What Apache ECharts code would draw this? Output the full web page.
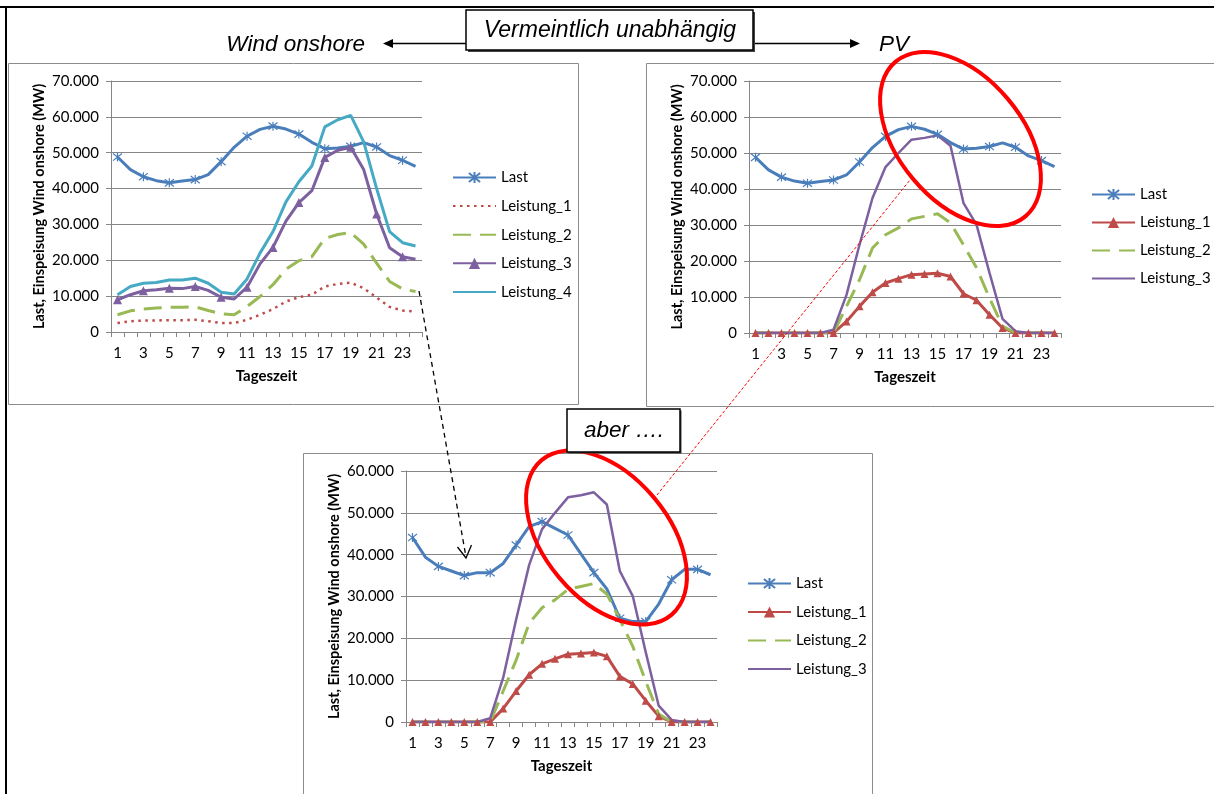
<!DOCTYPE html>
<html>
<head>
<meta charset="utf-8">
<script src="https://cdn.jsdelivr.net/npm/echarts@6/dist/echarts.min.js"></script>
<style>
html,body{margin:0;padding:0;background:#fff;width:1214px;height:794px;overflow:hidden;}
.c{position:absolute;}
</style>
</head>
<body>
<div id="p1" class="c" style="left:8px;top:63px;width:571px;height:342px;"></div>
<div id="p2" class="c" style="left:646px;top:63px;width:575px;height:344px;"></div>
<div id="p3" class="c" style="left:303px;top:453px;width:570px;height:341px;"></div>
<div id="ov" class="c" style="left:0;top:0;width:1214px;height:794px;pointer-events:none;z-index:10;"></div>
<script>
// ---- data ----
const hours = ['1','2','3','4','5','6','7','8','9','10','11','12','13','14','15','16','17','18','19','20','21','22','23','24'];

const windLast = [48800,45300,43300,42200,41600,42100,42500,43900,47500,51500,54600,56500,57400,56600,55200,52900,51100,51300,51800,52800,51600,49200,47900,46200];
const windL1 = [2500,3000,3200,3200,3300,3300,3400,3000,2500,2500,3400,4800,6400,8500,9700,10400,12700,13400,13800,12200,9600,7000,6000,5700];
const windL2 = [4800,5900,6400,6700,6900,6900,7000,6000,5100,4800,7100,9900,13200,17500,19900,21000,26100,27200,27700,24500,19200,14100,12000,11300];
const windL3 = [9000,10400,11500,11800,12200,12100,12700,11600,9700,9200,12500,19000,23600,30900,36100,39400,48700,50700,51500,45300,32900,23500,21000,20300];
const windL4 = [10400,12700,13600,13800,14500,14500,15000,13600,11100,10600,14800,22000,28000,36300,41900,46300,57200,59200,60400,53000,40000,28000,24900,24000];

const pvL1 = [0,0,0,0,0,0,0,3200,7400,11300,13900,15100,16200,16400,16600,15700,10900,9100,5100,1400,0,0,0,0];
const pvL2 = [0,0,0,0,0,0,0,7400,14800,23600,27300,29200,31700,32400,33100,30600,24500,18100,9700,1900,0,0,0,0];
const pvL3 = [0,0,0,0,0,0,900,10600,24500,37500,46100,50000,53700,54200,54900,52000,36100,30100,16700,3900,500,0,0,0];

const aberLast = [44100,39400,37200,36100,35000,35700,35700,37900,42300,46700,47900,46300,44700,40200,35700,31800,24800,24000,24000,28200,34000,36500,36500,35200];

const yMaxTop = 70000;
const yMaxBottom = 60000;
const yStep = 10000;

// ---- styles ----
const BLUE='#4A7EBB', RED='#BE4B48', GREEN='#98B954', PURPLE='#7D60A0', CYAN='#46AAC5';
const GRID='#868686';
const FONT='Lato';
const star='path://M1,1L9,9M9,1L1,9M5,0L5,10';

function fmt(v){ return v===0?'0':(v/1000).toFixed(3); }

function baseOption(max, legendTop){
  return {
    backgroundColor:'transparent',
    animation:false,
    textStyle:{fontFamily:FONT},
    grid:{left:103, top:18, width:311, height:251, containLabel:false, outerBoundsMode:'none'},
    legend:{
      orient:'vertical', left:439, top:legendTop, itemWidth:43, itemHeight:14, itemGap:13.5,
      textStyle:{fontFamily:FONT, fontSize:15, color:'#000'}
    },
    xAxis:{
      type:'category', data:hours, boundaryGap:true,
      name:'Tageszeit', nameLocation:'middle', nameGap:37, nameMoveOverlap:false,
      nameTextStyle:{fontFamily:FONT, fontSize:15, fontWeight:'bold', color:'#000'},
      axisLine:{show:true, lineStyle:{color:GRID, width:1}},
      axisTick:{show:true, alignWithLabel:false, interval:0, length:5, lineStyle:{color:GRID}},
      axisLabel:{interval:1, margin:13.5, fontFamily:FONT, fontSize:15, color:'#000'},
      splitLine:{show:false}
    },
    yAxis:{
      type:'value', min:0, max:max, interval:yStep,
      name:'Last, Einspeisung Wind onshore (MW)', nameLocation:'middle', nameGap:64, nameRotate:90, nameMoveOverlap:false,
      nameTextStyle:{fontFamily:FONT, fontSize:14.5, fontWeight:'bold', color:'#000'},
      axisLine:{show:true, lineStyle:{color:GRID, width:1}},
      axisTick:{show:true, length:5, lineStyle:{color:GRID}},
      axisLabel:{formatter:fmt, margin:12, fontFamily:FONT, fontSize:15, color:'#000'},
      splitLine:{show:true, lineStyle:{color:GRID, width:1}}
    }
  };
}
function lastSeries(data){
  return {name:'Last', type:'line', data:data, symbol:star, symbolSize:9, showSymbol:true,
    lineStyle:{color:BLUE, width:3}, itemStyle:{color:BLUE, borderColor:BLUE, borderWidth:1.2}};
}
function plain(name, data, color, width, type){
  return {name:name, type:'line', data:data, symbol:'none',
    lineStyle:{color:color, width:width, type:type||'solid'}, itemStyle:{color:color}};
}
function tri(name, data, color, size){
  return {name:name, type:'line', data:data, symbol:'triangle', symbolSize:size,
    lineStyle:{color:color, width:3}, itemStyle:{color:color}};
}
function lineOnly(name){ return {name:name, itemStyle:{opacity:0}}; }

// Panel 1
const o1 = baseOption(yMaxTop, 102);
o1.series = [
  lastSeries(windLast),
  plain('Leistung_1', windL1, RED, 2.5, [2.5,4.5]),
  plain('Leistung_2', windL2, GREEN, 3, [18,9]),
  tri('Leistung_3', windL3, PURPLE, 9),
  plain('Leistung_4', windL4, CYAN, 3)
];
o1.legend.data = ['Last', lineOnly('Leistung_1'), lineOnly('Leistung_2'), 'Leistung_3', lineOnly('Leistung_4')];
o1.legend.itemGap = 13.6;

// Panel 2
const o2 = baseOption(yMaxTop, 119);
o2.grid.width = 312; o2.grid.height = 252;
o2.series = [lastSeries(windLast), tri('Leistung_1', pvL1, RED, 8), plain('Leistung_2', pvL2, GREEN, 3, [18,9]), plain('Leistung_3', pvL3, PURPLE, 2.5)];
o2.legend.data = ['Last','Leistung_1', lineOnly('Leistung_2'), lineOnly('Leistung_3')];
o2.legend.left = 440; o2.legend.itemGap = 13;

// Panel 3
const o3 = baseOption(yMaxBottom, 118);
o3.series = [lastSeries(aberLast), tri('Leistung_1', pvL1, RED, 8), plain('Leistung_2', pvL2, GREEN, 3, [18,9]), plain('Leistung_3', pvL3, PURPLE, 2.5)];
o3.legend.data = ['Last','Leistung_1', lineOnly('Leistung_2'), lineOnly('Leistung_3')];
o3.legend.itemGap = 13.5;

[['p1',o1],['p2',o2],['p3',o3]].forEach(function(p){
  const ch = echarts.init(document.getElementById(p[0]), null, {renderer:'canvas'});
  ch.setOption(p[1]);
});

// Overlay annotations
const ov = echarts.init(document.getElementById('ov'), null, {renderer:'canvas'});
const D = Math.PI/180;
const ANN = '"Liberation Sans", Arial, sans-serif';
ov.setOption({
  backgroundColor:'transparent',
  animation:false,
  graphic:[
    // outer frame
    {type:'line', shape:{x1:0,y1:7,x2:1214,y2:7}, style:{stroke:'#000', lineWidth:2}},
    {type:'line', shape:{x1:6,y1:7,x2:6,y2:794}, style:{stroke:'#000', lineWidth:2}},
    // panel borders
    {type:'rect', shape:{x:8.5,y:63.5,width:570,height:341}, style:{fill:'none', stroke:'#8c8c8c', lineWidth:1}},
    {type:'rect', shape:{x:646.5,y:63.5,width:590,height:343}, style:{fill:'none', stroke:'#8c8c8c', lineWidth:1}},
    {type:'rect', shape:{x:303.5,y:453.5,width:569,height:400}, style:{fill:'none', stroke:'#8c8c8c', lineWidth:1}},
    // headings and arrows
    {type:'text', x:365, y:45, style:{text:'Wind onshore', font:'italic 22.5px '+ANN, fill:'#000', textAlign:'right', textVerticalAlign:'middle'}},
    {type:'line', shape:{x1:390,y1:43.5,x2:466,y2:43.5}, style:{stroke:'#000', lineWidth:1.5}},
    {type:'polygon', shape:{points:[[383,43.5],[393,39],[393,48]]}, style:{fill:'#000'}},
    {type:'text', x:879, y:45, style:{text:'PV', font:'italic 22.5px '+ANN, fill:'#000', textAlign:'left', textVerticalAlign:'middle'}},
    {type:'line', shape:{x1:753,y1:43.5,x2:852,y2:43.5}, style:{stroke:'#000', lineWidth:1.5}},
    {type:'polygon', shape:{points:[[860,43.5],[850,39],[850,48]]}, style:{fill:'#000'}},
    // ellipses
    {type:'ellipse', x:960.5, y:139, rotation:-50*D, shape:{cx:0,cy:0,rx:101,ry:62}, style:{fill:'none', stroke:'#FF0000', lineWidth:4}},
    {type:'ellipse', x:606.5, y:537.5, rotation:-50*D, shape:{cx:0,cy:0,rx:101,ry:62}, style:{fill:'none', stroke:'#FF0000', lineWidth:4}},
    // red connector
    {type:'line', shape:{x1:657,y1:495,x2:910,y2:180}, style:{stroke:'#FF0000', lineWidth:1, lineDash:[3,2]}},
    // black dashed arrow
    {type:'line', shape:{x1:419,y1:291,x2:466,y2:557}, style:{stroke:'#000', lineWidth:1.3, lineDash:[5,4]}},
    {type:'polyline', shape:{points:[[457.5,547],[466,558],[471.5,545]]}, style:{stroke:'#000', lineWidth:1.3, fill:'none'}},
    // boxes
    {type:'rect', shape:{x:468,y:12,width:287,height:40}, style:{fill:'#444'}},
    {type:'rect', shape:{x:466,y:10,width:287,height:40}, style:{fill:'#fff', stroke:'#000', lineWidth:1.5}},
    {type:'text', x:610, y:31, style:{text:'Vermeintlich unabhängig', font:'italic 23px '+ANN, fill:'#000', textAlign:'center', textVerticalAlign:'middle'}},
    {type:'rect', shape:{x:568.5,y:410.5,width:113,height:43}, style:{fill:'#444'}},
    {type:'rect', shape:{x:567,y:409,width:113,height:43}, style:{fill:'#fff', stroke:'#000', lineWidth:1.5}},
    {type:'text', x:624, y:431, style:{text:'aber ….', font:'italic 22.5px '+ANN, fill:'#000', textAlign:'center', textVerticalAlign:'middle'}}
  ]
});
</script>
</body>
</html>
